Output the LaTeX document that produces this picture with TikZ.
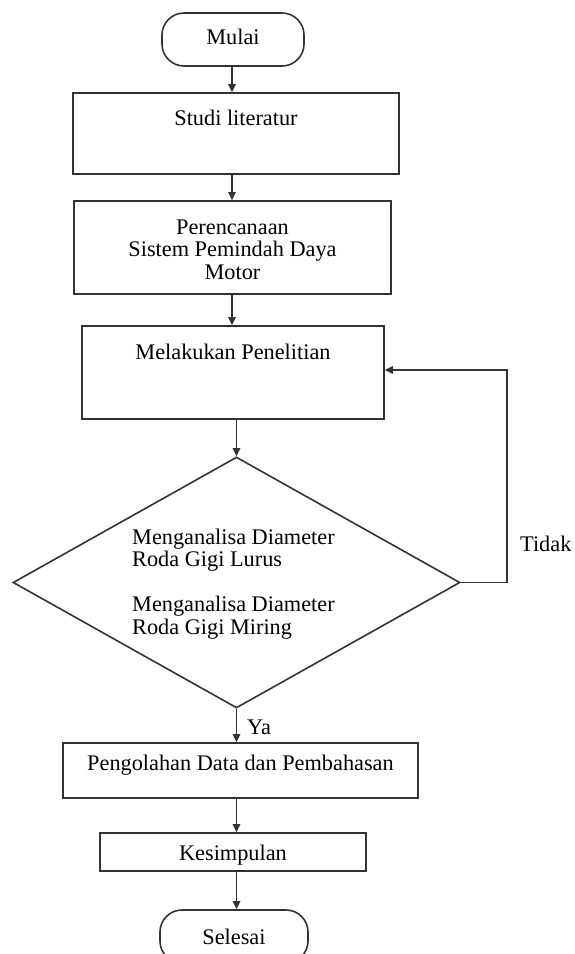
\documentclass[tikz,border=0pt]{standalone}
\usepackage{fontspec}
\setmainfont{Liberation Serif}
\usetikzlibrary{shapes.geometric,arrows.meta}
\begin{document}
\begin{tikzpicture}[x=1pt,y=-1pt,
  every node/.style={font=\fontsize{22.3}{23}\selectfont, text=black},
  box/.style={draw=black!80, line width=1.6pt, rectangle, inner sep=0pt},
  term/.style={draw=black!80, line width=1.6pt, rectangle, rounded corners=22pt, inner sep=0pt},
  dec/.style={draw=black!80, line width=1.6pt, diamond, inner sep=0pt},
  lbl/.style={inner sep=0pt, anchor=base},
  lblw/.style={inner sep=0pt, anchor=base west},
  arr/.style={draw=black!80, line width=1.6pt, -{Triangle[length=8pt,width=7.5pt]}}]
\useasboundingbox (0,0) rectangle (574,954);
\clip (0,0) rectangle (574,954);

\node[term, minimum width=142pt, minimum height=53pt] (mulai) at (233,39.5) {};
\node[lbl] (tmulai) at (233,44) {Mulai};

\node[box, minimum width=326pt, minimum height=81pt] (studi) at (236,133.5) {};
\node[lbl] (tstudi) at (236,125) {Studi literatur};

\node[box, minimum width=317pt, minimum height=93pt] (renc) at (232.5,247.5) {};
\node[lbl] (trenca) at (232.5,234) {Perencanaan};
\node[lbl] (trencb) at (232.5,256) {Sistem Pemindah Daya};
\node[lbl] (trencc) at (232.5,279) {Motor};

\node[box, minimum width=302pt, minimum height=93pt] (mel) at (233,372.5) {};
\node[lbl] (tmel) at (233,359) {Melakukan Penelitian};

\node[dec, minimum width=447pt, minimum height=251pt] (dec) at (236.5,582.5) {};
\node[lblw] (tdeca) at (132,544) {Menganalisa Diameter};
\node[lblw] (tdecb) at (132,566) {Roda Gigi Lurus};
\node[lblw] (tdecc) at (132,611) {Menganalisa Diameter};
\node[lblw] (tdecd) at (132,634) {Roda Gigi Miring};

\node[box, minimum width=355pt, minimum height=55pt] (peng) at (240.5,770.5) {};
\node[lbl] (tpeng) at (240.5,770) {Pengolahan Data dan Pembahasan};

\node[box, minimum width=266pt, minimum height=38pt] (kes) at (233,852) {};
\node[lbl] (tkes) at (233,860) {Kesimpulan};

\node[term, minimum width=148pt, minimum height=53pt] (sel) at (234,936.5) {};
\node[lbl] (tsel) at (234,944) {Selesai};

\node[lblw] (tidak) at (520,551) {Tidak};
\node[lblw] (ya) at (247,734) {Ya};

\draw[arr] (mulai.south -| tstudi.base) ++(-4,0) coordinate (a0) -- (a0 |- studi.north);
\draw[arr] (studi.south -| a0) -- (a0 |- renc.north);
\draw[arr] (renc.south -| a0) -- (a0 |- mel.north);
\draw[arr] (dec.north |- mel.south) -- (dec.north);
\draw[arr] (dec.south) -- (dec.south |- peng.north);
\draw[arr] (peng.south -| dec.south) -- (dec.south |- kes.north);
\draw[arr] (kes.south -| dec.south) -- (dec.south |- sel.north);
\coordinate (fb) at (507,370);
\draw[arr] (dec.east) -| (fb) -- (mel.east |- fb);
\end{tikzpicture}
\end{document}
